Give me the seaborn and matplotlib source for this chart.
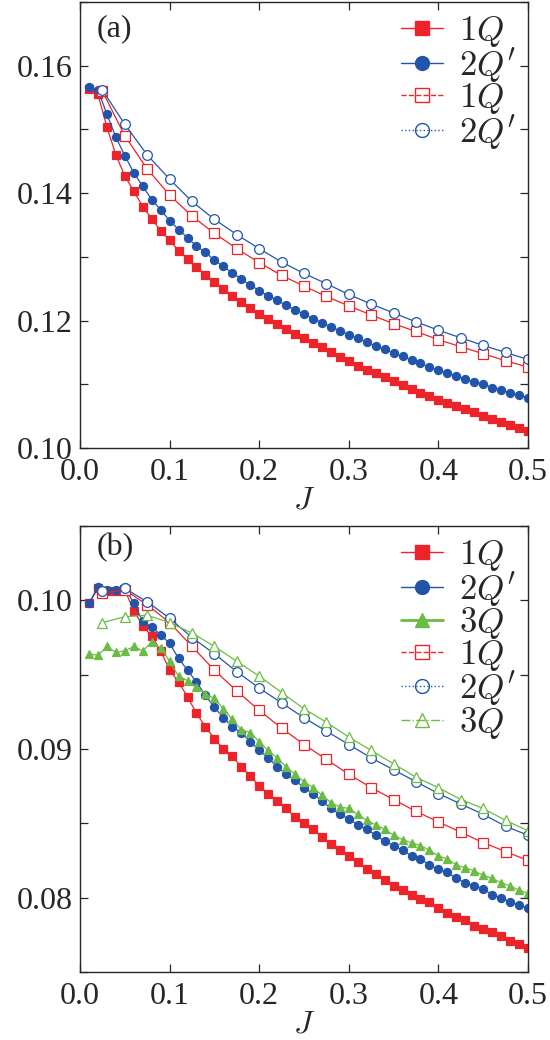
import numpy as np
import matplotlib
matplotlib.use("Agg")
import matplotlib.pyplot as plt
from matplotlib.lines import Line2D
from matplotlib.ticker import MultipleLocator
import seaborn as sns

# ---- data ----
J_fine = np.round(np.arange(1, 51) * 0.01, 2)      # filled symbols
J_coarse = np.round(np.arange(1, 21) * 0.025, 3)   # open symbols

# panel (a)
a_1Q_fill = [0.1563, 0.1555, 0.1504, 0.1460, 0.1427, 0.1403, 0.1379, 0.1360, 0.1341, 0.1326,
             0.1310, 0.1297, 0.1284, 0.1272, 0.1260, 0.1249, 0.1239, 0.1229, 0.1220, 0.1211,
             0.1203, 0.1195, 0.1187, 0.1179, 0.1172, 0.1165, 0.1158, 0.1150, 0.1143, 0.1136,
             0.1129, 0.1123, 0.1117, 0.1111, 0.1105, 0.1099, 0.1093, 0.1087, 0.1082, 0.1076,
             0.1071, 0.1066, 0.1061, 0.1056, 0.1051, 0.1046, 0.1041, 0.1036, 0.1032, 0.1027]
a_2Q_fill = [0.1567, 0.1562, 0.1524, 0.1488, 0.1459, 0.1432, 0.1411, 0.1390, 0.1374, 0.1357,
             0.1343, 0.1330, 0.1317, 0.1307, 0.1295, 0.1285, 0.1275, 0.1265, 0.1256, 0.1247,
             0.1239, 0.1232, 0.1224, 0.1217, 0.1210, 0.1203, 0.1197, 0.1190, 0.1184, 0.1178,
             0.1172, 0.1166, 0.1160, 0.1155, 0.1149, 0.1144, 0.1138, 0.1133, 0.1127, 0.1122,
             0.1117, 0.1113, 0.1108, 0.1104, 0.1100, 0.1095, 0.1091, 0.1087, 0.1083, 0.1079]
a_1Q_open = [0.1560, 0.1490, 0.1438, 0.1397, 0.1364, 0.1337, 0.1313, 0.1291, 0.1271, 0.1254,
             0.1238, 0.1223, 0.1209, 0.1195, 0.1183, 0.1170, 0.1159, 0.1148, 0.1137, 0.1127]
a_2Q_open = [0.1562, 0.1508, 0.1460, 0.1422, 0.1387, 0.1359, 0.1335, 0.1313, 0.1292, 0.1274,
             0.1258, 0.1241, 0.1226, 0.1212, 0.1198, 0.1185, 0.1173, 0.1161, 0.1150, 0.1139]

# panel (b)
b_1Q_fill = [0.0998, 0.1008, 0.1006, 0.1006, 0.1007, 0.0993, 0.0983, 0.0976, 0.0966, 0.0953,
             0.0945, 0.0935, 0.0924, 0.0915, 0.0907, 0.0900, 0.0895, 0.0888, 0.0882, 0.0875,
             0.0870, 0.0865, 0.0860, 0.0854, 0.0850, 0.0846, 0.0841, 0.0836, 0.0832, 0.0828,
             0.0824, 0.0819, 0.0816, 0.0812, 0.0808, 0.0805, 0.0802, 0.0799, 0.0797, 0.0793,
             0.0790, 0.0787, 0.0785, 0.0781, 0.0779, 0.0777, 0.0774, 0.0771, 0.0769, 0.0766]
b_2Q_fill = [0.0998, 0.1009, 0.1007, 0.1007, 0.1009, 0.0998, 0.0986, 0.0982, 0.0977, 0.0971,
             0.0961, 0.0953, 0.0945, 0.0936, 0.0928, 0.0921, 0.0915, 0.0911, 0.0905, 0.0899,
             0.0894, 0.0888, 0.0883, 0.0879, 0.0874, 0.0870, 0.0865, 0.0860, 0.0856, 0.0853,
             0.0849, 0.0846, 0.0842, 0.0838, 0.0835, 0.0832, 0.0828, 0.0826, 0.0822, 0.0819,
             0.0817, 0.0813, 0.0810, 0.0808, 0.0806, 0.0802, 0.0800, 0.0797, 0.0795, 0.0793]
b_3Q_fill = [0.0964, 0.0963, 0.0969, 0.0965, 0.0966, 0.0969, 0.0966, 0.0972, 0.0968, 0.0959,
             0.0949, 0.0946, 0.0942, 0.0937, 0.0934, 0.0927, 0.0920, 0.0913, 0.0911, 0.0905,
             0.0899, 0.0894, 0.0888, 0.0883, 0.0878, 0.0874, 0.0869, 0.0864, 0.0861, 0.0860,
             0.0856, 0.0852, 0.0849, 0.0846, 0.0842, 0.0839, 0.0837, 0.0835, 0.0832, 0.0828,
             0.0826, 0.0822, 0.0820, 0.0818, 0.0815, 0.0813, 0.0810, 0.0808, 0.0805, 0.0803]
b_1Q_open = [0.1005, 0.1007, 0.0997, 0.0985, 0.0969, 0.0953, 0.0939, 0.0926, 0.0914, 0.0903,
             0.0893, 0.0883, 0.0874, 0.0866, 0.0858, 0.0851, 0.0844, 0.0837, 0.0831, 0.0825]
b_2Q_open = [0.1006, 0.1008, 0.0999, 0.0988, 0.0975, 0.0964, 0.0952, 0.0941, 0.0931, 0.0921,
             0.0912, 0.0903, 0.0894, 0.0886, 0.0878, 0.0870, 0.0863, 0.0856, 0.0848, 0.0842]
b_3Q_open = [0.0985, 0.0989, 0.0990, 0.0985, 0.0978, 0.0969, 0.0959, 0.0949, 0.0938, 0.0927,
             0.0918, 0.0908, 0.0899, 0.0890, 0.0881, 0.0874, 0.0866, 0.0860, 0.0852, 0.0845]

labels = [r"$1Q$", r"$2Q'$", r"$3Q$"]
RED, BLUE, GREEN = "#ec2328", "#2255aa", "#6cbb45"

sns.set_style("ticks")
plt.rcParams.update({
    "font.family": ["Liberation Serif", "DejaVu Serif"],
    "mathtext.fontset": "cm",
    "xtick.direction": "in",
    "ytick.direction": "in",
    "xtick.top": True,
    "ytick.right": True,
    "axes.linewidth": 1.0,
})


def draw(ax, x, y, color, marker, filled, ms):
    sns.lineplot(x=x, y=y, ax=ax, color=color, lw=0.9, marker=marker,
                 markersize=ms, markeredgecolor=color, markeredgewidth=0.9,
                 markerfacecolor=color if filled else "white", legend=False)


def handle(color, marker, filled, ls, lw=1.0):
    return Line2D([], [], color=color, lw=lw, ls=ls, marker=marker, markersize=10,
                  markeredgecolor=color, markeredgewidth=1.0,
                  markerfacecolor=color if filled else "none")


def style(ax, ylim, major, minor, tag, tag_y):
    ax.set_xlim(0, 0.5)
    ax.set_ylim(*ylim)
    ax.xaxis.set_major_locator(MultipleLocator(0.1))
    ax.yaxis.set_major_locator(MultipleLocator(major))
    ax.yaxis.set_minor_locator(MultipleLocator(minor))
    ax.xaxis.set_major_formatter(plt.FuncFormatter(lambda v, p: f"{v:.1f}"))
    ax.tick_params(which="both", labelsize=23, length=6, width=0.9, pad=5)
    ax.tick_params(axis="x", pad=7)
    ax.set_xlabel(r"$J$", fontsize=23, labelpad=0)
    ax.set_ylabel("")
    ax.text(0.038, tag_y, tag, transform=ax.transAxes, fontsize=23, va="top", ha="left")


leg_kw = dict(loc="upper right", frameon=False, fontsize=25, handlelength=1.2,
              handletextpad=0.45, labelspacing=-0.1, borderaxespad=0.1, borderpad=0.25)

fig = plt.figure(figsize=(5.5, 10.4), dpi=100)
ax1 = fig.add_axes([0.1455, 0.5692, 0.8145, 0.4288])
ax2 = fig.add_axes([0.1455, 0.0654, 0.8145, 0.4288])

# (a)
draw(ax1, J_fine, a_1Q_fill, RED, "s", True, 5.3)
draw(ax1, J_fine, a_2Q_fill, BLUE, "o", True, 5.8)
draw(ax1, J_coarse, a_1Q_open, RED, "s", False, 6.5)
draw(ax1, J_coarse, a_2Q_open, BLUE, "o", False, 7)
style(ax1, (0.10, 0.17), 0.02, 0.01, "(a)", 0.972)
h1 = [handle(RED, "s", True, "-"), handle(BLUE, "o", True, "-"),
      handle(RED, "s", False, "--"), handle(BLUE, "o", False, ":")]
ax1.legend(h1, [labels[0], labels[1], labels[0], labels[1]], **leg_kw)

# (b)
draw(ax2, J_fine, b_1Q_fill, RED, "s", True, 5.3)
draw(ax2, J_fine, b_2Q_fill, BLUE, "o", True, 5.8)
draw(ax2, J_fine, b_3Q_fill, GREEN, "^", True, 5.5)
draw(ax2, J_coarse, b_1Q_open, RED, "s", False, 6.5)
draw(ax2, J_coarse, b_2Q_open, BLUE, "o", False, 7)
draw(ax2, J_coarse, b_3Q_open, GREEN, "^", False, 7)
style(ax2, (0.075, 0.105), 0.01, 0.005, "(b)", 0.985)
ax2.yaxis.set_major_formatter(plt.FuncFormatter(lambda v, p: f"{v:.2f}"))
h2 = [handle(RED, "s", True, "-"), handle(BLUE, "o", True, "-"),
      handle(GREEN, "^", True, "-", lw=2.0), handle(RED, "s", False, "--"),
      handle(BLUE, "o", False, ":"), handle(GREEN, "^", False, "-.")]
ax2.legend(h2, labels + labels, **leg_kw)

fig.savefig("out.png", dpi=100)
